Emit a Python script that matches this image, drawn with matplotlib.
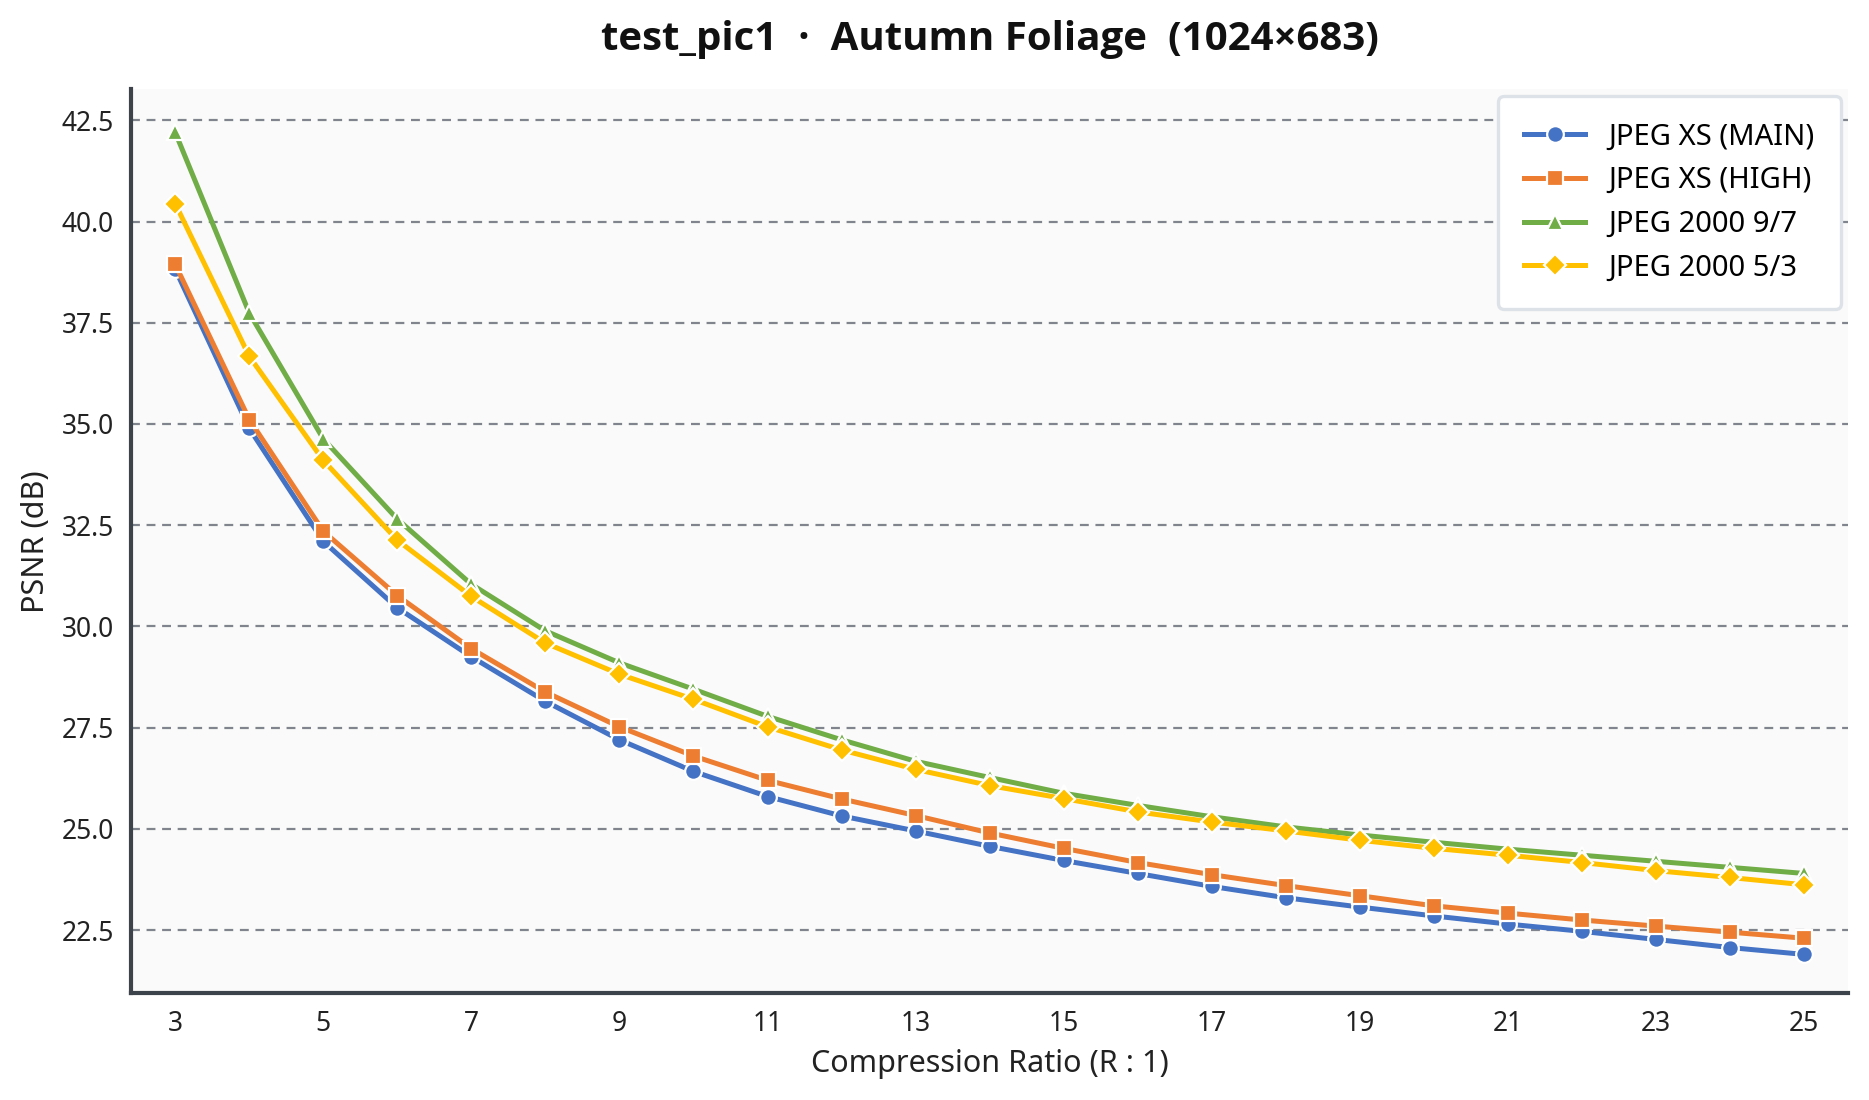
import matplotlib
matplotlib.use("Agg")
import matplotlib.pyplot as plt
import numpy as np

plt.rcParams["font.family"] = ["Noto Sans", "DejaVu Sans"]

ratios = np.arange(3, 26)
xs_main = [38.82, 34.89, 32.10, 30.46, 29.25, 28.15, 27.20, 26.42, 25.80, 25.32, 24.95,
           24.57, 24.22, 23.90, 23.58, 23.30, 23.07, 22.85, 22.65, 22.47, 22.27, 22.07, 21.90]
xs_high = [38.94, 35.11, 32.35, 30.76, 29.45, 28.38, 27.52, 26.80, 26.20, 25.74, 25.33,
           24.90, 24.52, 24.17, 23.87, 23.60, 23.35, 23.10, 22.92, 22.75, 22.60, 22.45, 22.30]
j2k_97 = [42.20, 37.74, 34.63, 32.65, 31.04, 29.89, 29.10, 28.45, 27.78, 27.20, 26.67,
          26.27, 25.88, 25.58, 25.30, 25.05, 24.85, 24.67, 24.50, 24.35, 24.20, 24.05, 23.90]
j2k_53 = [40.44, 36.67, 34.10, 32.13, 30.74, 29.59, 28.82, 28.20, 27.52, 26.95, 26.47,
          26.07, 25.75, 25.42, 25.17, 24.95, 24.72, 24.52, 24.35, 24.17, 23.97, 23.80, 23.62]

series = [
    ("JPEG XS (MAIN)", xs_main, "#4472C4", "o", 6),
    ("JPEG XS (HIGH)", xs_high, "#ED7D31", "s", 6),
    ("JPEG 2000 9/7", j2k_97, "#70AD47", "^", 6),
    ("JPEG 2000 5/3", j2k_53, "#FFC000", "D", 5.5),
]

fig = plt.figure(figsize=(9.345, 5.5), dpi=200)
ax = fig.add_axes([0.070, 0.097, 0.919, 0.822])
ax.set_facecolor("#fafafa")

for name, vals, color, marker, ms in series:
    ax.plot(ratios, vals, color=color, marker=marker, markersize=ms,
            markeredgecolor="white", markeredgewidth=0.8, linewidth=1.8, label=name)

ax.set_xlim(2.4, 25.6)
ax.set_ylim(20.94, 43.27)
ax.set_xticks(np.arange(3, 26, 2))
ax.set_yticks(np.arange(22.5, 43, 2.5))
ax.yaxis.grid(True, linestyle=(0, (4, 3)), color="#80848c", linewidth=0.8)
ax.set_axisbelow(True)

for side in ("top", "right"):
    ax.spines[side].set_visible(False)
for side in ("left", "bottom"):
    ax.spines[side].set_color("#3d434b")
    ax.spines[side].set_linewidth(1.5)
ax.tick_params(axis="both", labelsize=9.5, colors="#222222", length=0, pad=6)

ax.set_xlabel("Compression Ratio (R : 1)", fontsize=11, color="#222222", labelpad=4)
ax.set_ylabel("PSNR (dB)", fontsize=11, color="#222222", labelpad=4)
ax.set_title("test_pic1  ·  Autumn Foliage  (1024×683)", fontsize=14.5,
             fontweight="bold", family=["Open Sans", "DejaVu Sans"], color="#111111",
             pad=14)

leg = ax.legend(loc="upper right", fontsize=10.5, frameon=True, fancybox=True,
                borderpad=0.9, labelspacing=0.5, handlelength=2.1, borderaxespad=0.25)
leg.get_frame().set_edgecolor("#dde2e8")
leg.get_frame().set_facecolor("white")
leg.get_frame().set_linewidth(1.2)
leg.get_frame().set_alpha(1)

fig.savefig("out.png", dpi=200)
